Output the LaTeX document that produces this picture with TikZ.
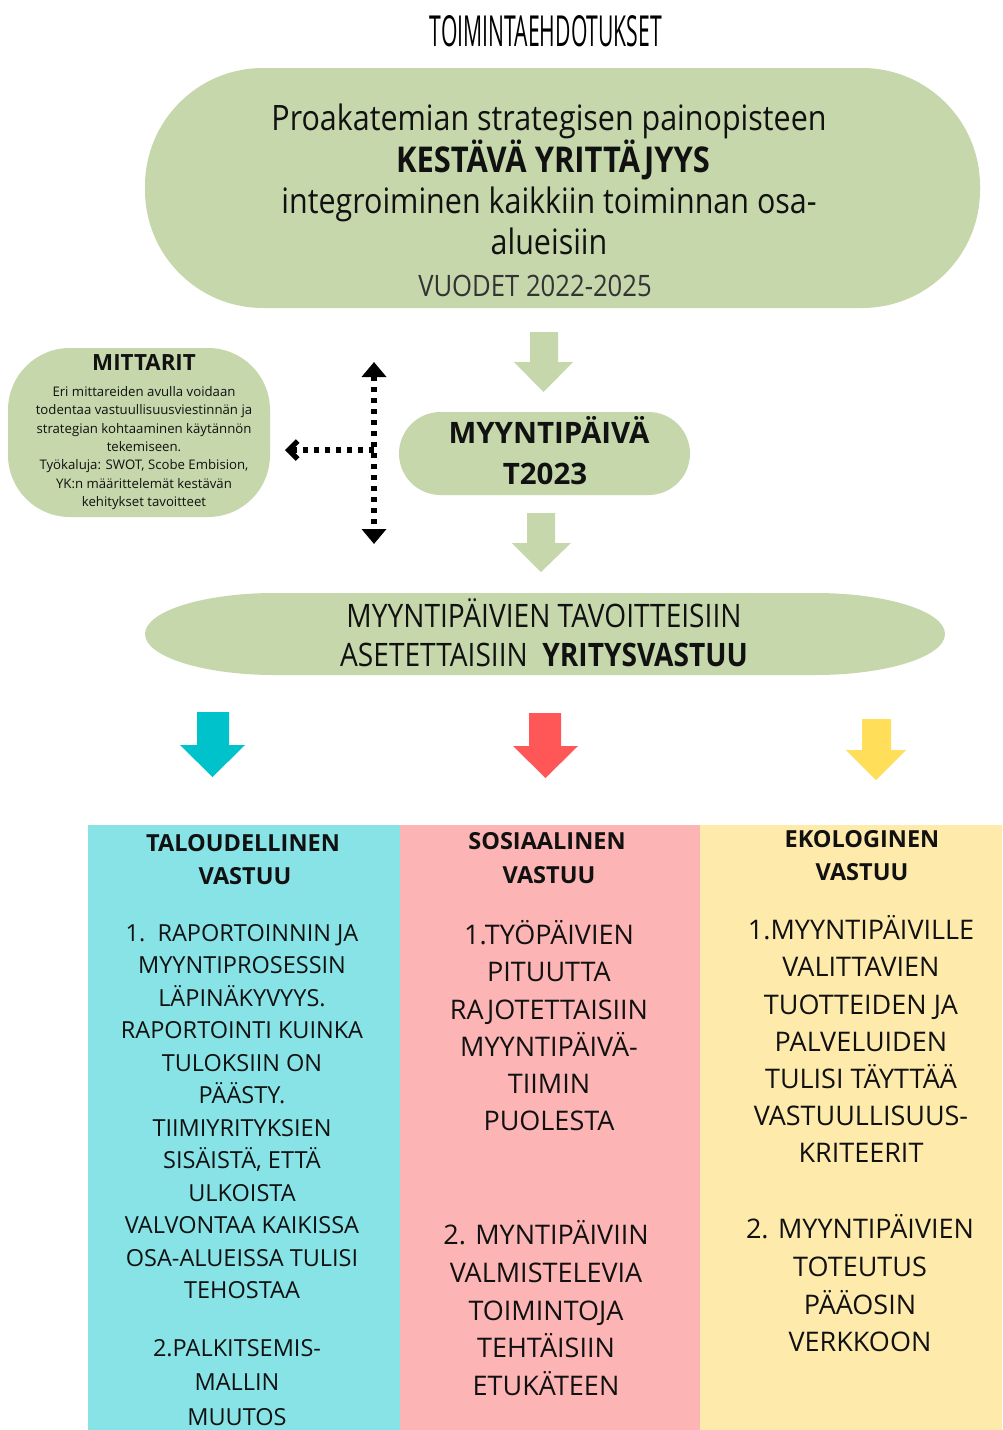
\documentclass[tikz,border=0pt]{standalone}
\usepackage{fontspec}
\usepackage{graphicx}
\setmainfont{Open Sans}
\newfontfamily\condfont[FakeStretch=0.87]{Open Sans}
\newfontfamily\titlefont[FakeStretch=0.45]{Open Sans}
\usetikzlibrary{arrows.meta}
\definecolor{sage}{HTML}{C5D7AB}
\definecolor{tealA}{HTML}{00C2CB}
\definecolor{redA}{HTML}{FF5757}
\definecolor{yelA}{HTML}{FFDE59}
\definecolor{colB}{HTML}{87E3E6}
\definecolor{colP}{HTML}{FDB4B4}
\definecolor{colY}{HTML}{FEEBAC}
\definecolor{ink}{HTML}{111111}
\begin{document}
\begin{tikzpicture}[x=1pt,y=-1pt,
  txt/.style={inner sep=0pt, anchor=base, text=ink},
  topline/.style={txt, font=\condfont\fontsize{35}{40}\selectfont},
  midline/.style={txt, font=\condfont\fontsize{32.3}{38}\selectfont},
  mitline/.style={txt, font=\fontsize{13.2}{15}\selectfont},
  colhead/.style={txt, font=\bfseries\fontsize{23.5}{28}\selectfont},
  blueline/.style={txt, font=\fontsize{23.5}{28}\selectfont},
  bigline/.style={txt, font=\fontsize{27}{32}\selectfont},
  dots/.style={line width=5.2pt, dash pattern=on 5pt off 6pt, line cap=butt},
  colbox/.style={inner sep=0pt, anchor=north west, minimum height=605pt},
]
\useasboundingbox (0,0) rectangle (1002,1430);
\fill[white] (0,0) rectangle (1002,1430);

% title
\node[inner sep=0pt] (title) at (546,31) {\resizebox{232pt}{31pt}{\titlefont TOIMINTAEHDOTUKSET}};

% top box
\node[fill=sage, rounded corners=118pt, minimum width=835pt, minimum height=240pt, inner sep=0pt] (topbox) at (562.5,188) {};
\node[topline] (t1) at (549,130) {Proakatemian strategisen painopisteen};
\node[topline, font=\condfont\bfseries\fontsize{35.5}{40}\selectfont] (t2) at (553,172) {KESTÄVÄ YRITTÄJYYS};
\node[topline] (t3) at (549,213) {integroiminen kaikkiin toiminnan osa-};
\node[topline] (t4) at (549,254) {alueisiin};
\node[txt, font=\condfont\fontsize{29.5}{32}\selectfont, text=black!80] (t5) at (535,296) {VUODET 2022-2025};

% green arrow 1
\fill[sage] (530,332) -- (558,332) -- (558,362) -- (573,362) -- (543.5,392) -- (514,362) -- (530,362) -- cycle;

% myyntipaiva box
\node[fill=sage, rounded corners=41.5pt, minimum width=291pt, minimum height=83pt, inner sep=0pt] (mpbox) at (544.5,453.5) {};
\node[txt, font=\bfseries\fontsize{29.5}{32}\selectfont] (mp1) at (549,443.5) {MYYNTIPÄIVÄ};
\node[txt, font=\bfseries\fontsize{29.5}{32}\selectfont] (mp2) at (545,484.5) {T2023};

% green arrow 2
\fill[sage] (527,513) -- (555,513) -- (555,543) -- (571,543) -- (541,572) -- (512,543) -- (527,543) -- cycle;

% mittarit box
\node[fill=sage, rounded corners=62pt, minimum width=262pt, minimum height=169pt, inner sep=0pt] (mitbox) at (139,432.5) {};
\node[txt, font=\bfseries\fontsize{22.3}{24}\selectfont] (mitt) at (144,370) {MITTARIT};
\foreach \t [count=\i from 0] in {Eri mittareiden avulla voidaan, todentaa vastuullisuusviestinnän ja, strategian kohtaaminen käytännön, tekemiseen., {Työkaluja: SWOT, Scobe Embision,}, YK:n määrittelemät kestävän, kehitykset tavoitteet}
  \node[mitline] (m\i) at (144,{396.5+18.33*\i}) {\t};

% dotted arrows
\coordinate (vtop) at (374,362);
\coordinate (vbot) at (374,544);
\coordinate (vmid) at (374,450);
\coordinate (hend) at (285,450);
\draw[dots, {Triangle[width=24pt,length=15pt]}-{Triangle[width=24pt,length=15pt]}] (vtop) -- (vbot);
\draw[dots, -{Straight Barb[length=9pt,width=18pt]}] (vmid) -- (hend);

% second ellipse
\fill[sage] (275,593) -- (815,593) arc[start angle=-90, end angle=90, x radius=130, y radius=41] -- (275,675) arc[start angle=90, end angle=270, x radius=130, y radius=41] -- cycle;
\node[midline] (e1) at (544,627.5) {MYYNTIPÄIVIEN TAVOITTEISIIN};
\node[midline] (e2) at (544,666.5) {ASETETTAISIIN\ \ {\bfseries YRITYSVASTUU}};

% coloured arrows
\fill[tealA] (197,712) -- (229,712) -- (229,745) -- (245,745) -- (212.5,777) -- (180,745) -- (197,745) -- cycle;
\fill[redA] (529,713) -- (561,713) -- (561,746) -- (578,746) -- (545.5,778) -- (513,746) -- (529,746) -- cycle;
\fill[yelA] (862,719) -- (891,719) -- (891,750) -- (906,750) -- (876,780) -- (846,750) -- (862,750) -- cycle;

% columns
\node[colbox, fill=colB, minimum width=312pt] (colb) at (88,825) {};
\node[colbox, fill=colP, minimum width=300pt] (colp) at (400,825) {};
\node[colbox, fill=colY, minimum width=302pt] (coly) at (700,825) {};

% blue column
\node[colhead] (bh1) at (243,851.4) {TALOUDELLINEN};
\node[colhead] (bh2) at (245,884.4) {VASTUU};
\foreach \t [count=\i from 0] in {{1.\ \ RAPORTOINNIN JA}, MYYNTIPROSESSIN, LÄPINÄKYVYYS., RAPORTOINTI KUINKA, TULOKSIIN ON, PÄÄSTY., TIIMIYRITYKSIEN, {SISÄISTÄ, ETTÄ}, ULKOISTA, VALVONTAA KAIKISSA, OSA-ALUEISSA TULISI, TEHOSTAA}
  \node[blueline] (b\i) at (242,{941.4+32.5*\i}) {\t};
\foreach \t [count=\i from 0] in {2.PALKITSEMIS-, MALLIN, MUUTOS}
  \node[blueline] (bb\i) at (237,{1356.4+34.5*\i}) {\t};

% pink column
\node[colhead] (ph1) at (547,849.4) {SOSIAALINEN};
\node[colhead] (ph2) at (549,883.4) {VASTUU};
\foreach \t [count=\i from 0] in {1.TYÖPÄIVIEN, PITUUTTA, RAJOTETTAISIIN, MYYNTIPÄIVÄ-, TIIMIN, PUOLESTA}
  \node[bigline] (p\i) at (549,{944.6+37.2*\i}) {\t};
\foreach \t [count=\i from 0] in {2. MYNTIPÄIVIIN, VALMISTELEVIA, TOIMINTOJA, TEHTÄISIIN, ETUKÄTEEN}
  \node[bigline] (pp\i) at (546,{1244.6+37.75*\i}) {\t};

% yellow column
\node[colhead] (yh1) at (862,847.4) {EKOLOGINEN};
\node[colhead] (yh2) at (862,880.4) {VASTUU};
\foreach \t [count=\i from 0] in {1.MYYNTIPÄIVILLE, VALITTAVIEN, TUOTTEIDEN JA, PALVELUIDEN, TULISI TÄYTTÄÄ, VASTUULLISUUS-, KRITEERIT}
  \node[bigline] (y\i) at (861,{939.6+37.2*\i}) {\t};
\foreach \t [count=\i from 0] in {2. MYYNTIPÄIVIEN, TOTEUTUS, PÄÄOSIN, VERKKOON}
  \node[bigline] (yy\i) at (860,{1238.6+37.7*\i}) {\t};
\end{tikzpicture}
\end{document}
